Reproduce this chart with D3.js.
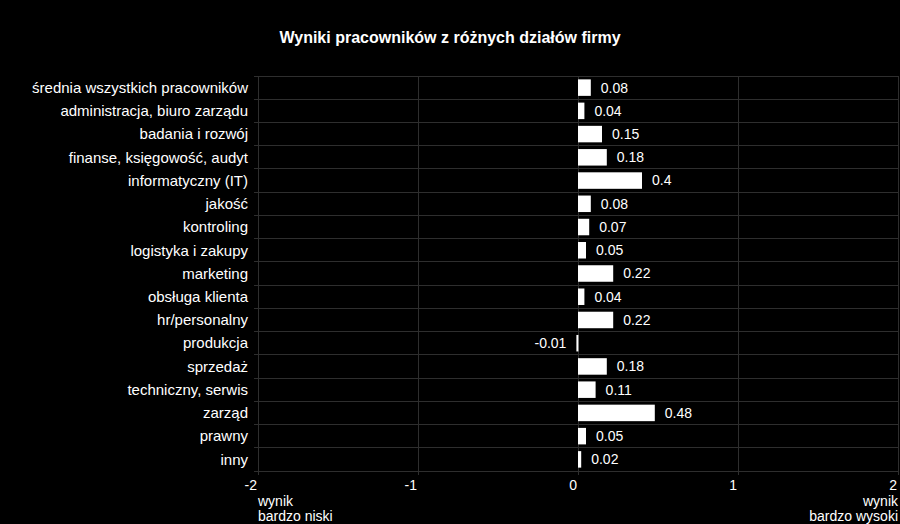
<!DOCTYPE html>
<html><head><meta charset="utf-8">
<script src="https://cdn.jsdelivr.net/npm/d3@7"></script>
<style>
html,body{margin:0;padding:0;background:#000;}
svg{display:block;font-family:"Liberation Sans",Arial,sans-serif;}
</style></head>
<body>
<svg id="chart" width="900" height="524"></svg>
<script>
const title = "Wyniki pracowników z różnych działów firmy";
const categories = ["średnia wszystkich pracowników","administracja, biuro zarządu","badania i rozwój","finanse, księgowość, audyt","informatyczny (IT)","jakość","kontroling","logistyka i zakupy","marketing","obsługa klienta","hr/personalny","produkcja","sprzedaż","techniczny, serwis","zarząd","prawny","inny"];
const values = [0.08,0.04,0.15,0.18,0.4,0.08,0.07,0.05,0.22,0.04,0.22,-0.01,0.18,0.11,0.48,0.05,0.02];
const xTicks = [-2,-1,0,1,2];
const lowLabel = ["wynik","bardzo niski"];
const highLabel = ["wynik","bardzo wysoki"];

const svg = d3.select("#chart");
const W = 900, H = 524;
const m = {left:258, right:2, top:76, bottom:53};
const x = d3.scaleLinear().domain([-2,2]).range([m.left, W - m.right]);
const y = d3.scaleBand().domain(categories).range([m.top, H - m.bottom]).paddingInner(0.29).paddingOuter(0.145);

svg.append("rect").attr("width",W).attr("height",H).attr("fill","#000");

svg.append("text").attr("x",450).attr("y",43).attr("text-anchor","middle")
  .attr("fill","#fff").attr("font-size",16).attr("font-weight","bold").text(title);

// grid
const g = svg.append("g");
const bounds = d3.range(categories.length + 1).map(i => m.top + i * (H - m.bottom - m.top) / categories.length);
g.selectAll("line.h").data(bounds).join("line")
  .attr("x1", m.left - 4).attr("x2", W - m.right)
  .attr("y1", d => d).attr("y2", d => d)
  .attr("stroke","#2e2e2e").attr("stroke-width",1).attr("shape-rendering","crispEdges");
g.selectAll("line.v").data(xTicks).join("line")
  .attr("x1", d => x(d)).attr("x2", d => x(d))
  .attr("y1", m.top).attr("y2", H - m.bottom + 4)
  .attr("stroke","#2e2e2e").attr("stroke-width",1).attr("shape-rendering","crispEdges");

// x tick labels
svg.selectAll("text.xt").data(xTicks).join("text")
  .attr("x", d => x(d) - 1).attr("y", 490).attr("text-anchor","end")
  .attr("fill","#fff").attr("font-size",14).text(d => d);

// y labels
svg.selectAll("text.yl").data(categories).join("text")
  .attr("x", 248).attr("y", d => y(d) + y.bandwidth()/2).attr("dy","0.35em")
  .attr("text-anchor","end").attr("fill","#fff").attr("font-size",15).text(d => d);

// bars
svg.selectAll("rect.bar").data(values).join("rect")
  .attr("x", d => Math.min(x(0), x(d)))
  .attr("y", (d,i) => y(categories[i]))
  .attr("width", d => Math.max(2, Math.abs(x(d) - x(0))))
  .attr("height", y.bandwidth())
  .attr("fill","#fff");

// value labels
svg.selectAll("text.val").data(values).join("text")
  .attr("x", d => d >= 0 ? Math.max(x(d), x(0)+2) + 10 : x(d) - 10)
  .attr("y", (d,i) => y(categories[i]) + y.bandwidth()/2).attr("dy","0.35em")
  .attr("text-anchor", d => d >= 0 ? "start" : "end")
  .attr("fill","#fff").attr("font-size",14).text(d => d);

// extreme labels
svg.append("text").attr("x", x(-2)).attr("y", 506).attr("fill","#fff").attr("font-size",14)
  .selectAll("tspan").data(lowLabel).join("tspan").attr("x", x(-2)).attr("dy",(d,i)=> i ? 15 : 0).text(d => d);
svg.append("text").attr("x", x(2)).attr("y", 506).attr("fill","#fff").attr("font-size",14).attr("text-anchor","end")
  .selectAll("tspan").data(highLabel).join("tspan").attr("x", x(2)).attr("dy",(d,i)=> i ? 15 : 0).text(d => d);
</script>
</body></html>
